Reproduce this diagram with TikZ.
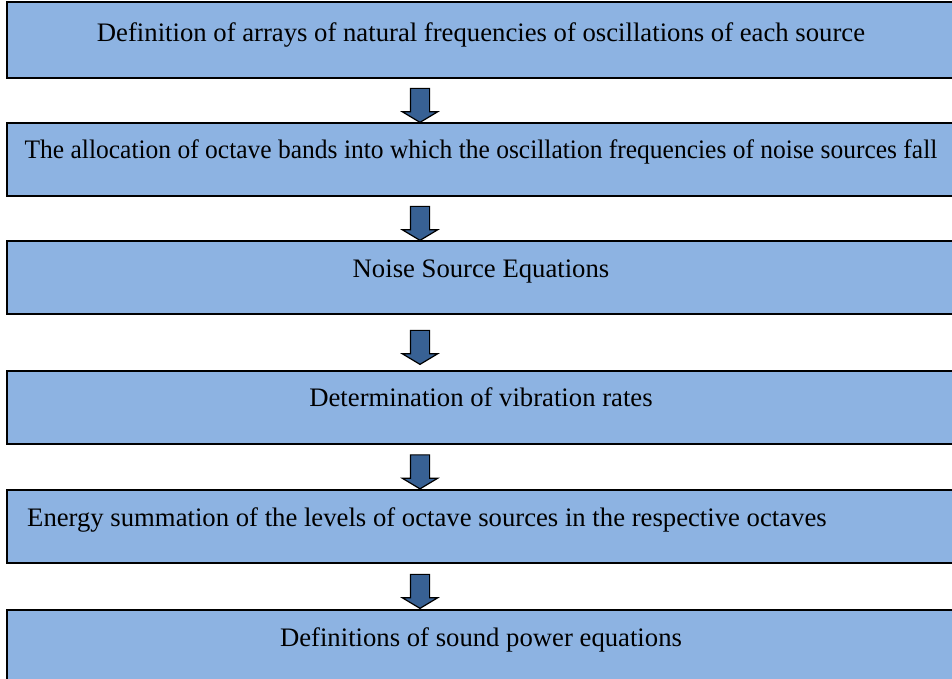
\documentclass[tikz,border=0pt]{standalone}
\usepackage{fontspec}
\setmainfont{Liberation Serif}
\usepackage{tikz}
\usetikzlibrary{shapes.arrows, calc}
\definecolor{fondoPaso}{RGB}{141,179,226}
\definecolor{rellenoFlecha}{RGB}{56,97,148}

\begin{document}
\begin{tikzpicture}[
  x=1pt, y=-1pt,
  font=\fontsize{26.7}{30}\selectfont,
  bloque/.style={draw=black, fill=fondoPaso, line width=1.4pt,
                 minimum width=948pt, minimum height=73pt, inner sep=0pt},
  flecha/.style={single arrow, draw=black, fill=rellenoFlecha, line width=1.2pt,
                 minimum width=34pt, minimum height=34pt, inner sep=9pt,
                 single arrow head extend=8pt, single arrow tip angle=118,
                 shape border rotate=270},
  rotulo/.style={anchor=base, inner sep=0pt}
]
\useasboundingbox (0,0) rectangle (952,678);

\node[bloque, minimum height=76pt] (b1) at (481,40) {};
\node[bloque] (b2) at (481,159.5) {};
\node[bloque] (b3) at (481,277.5) {};
\node[bloque] (b4) at (481,407.5) {};
\node[bloque] (b5) at (481,526.5) {};
\node[bloque] (b6) at (481,646.5) {};

\node[rotulo] (t1) at (481,41.5)
  {Definition of arrays of natural frequencies of oscillations of each source};
\node[rotulo] (t2) at (481,158.5)
  {\scalebox{0.955}[1]{The allocation of octave bands into which the oscillation frequencies of noise sources fall}};
\node[rotulo] (t3) at (481,277) {Noise Source Equations};
\node[rotulo] (t4) at (481,406) {Determination of vibration rates};
\node[rotulo, anchor=base west] (t5) at (27,526)
  {Energy summation of the levels of octave sources in the respective octaves};
\node[rotulo] (t6) at (481,646) {Definitions of sound power equations};

% Las flechas gruesas van centradas entre cada par de cajas, sobre un eje comun.
\coordinate (eje) at (420,0);
\node[flecha] (f1) at ($(b1.south -| eje)!0.5!(b2.north -| eje) + (0,2)$) {};
\node[flecha] (f2) at ($(b2.south -| eje)!0.5!(b3.north -| eje) + (0,2)$) {};
\node[flecha] (f3) at ($(b3.south -| eje)!0.5!(b4.north -| eje) + (0,2)$) {};
\node[flecha] (f4) at ($(b4.south -| eje)!0.5!(b5.north -| eje) + (0,2)$) {};
\node[flecha] (f5) at ($(b5.south -| eje)!0.5!(b6.north -| eje) + (0,2)$) {};

\end{tikzpicture}
\end{document}
